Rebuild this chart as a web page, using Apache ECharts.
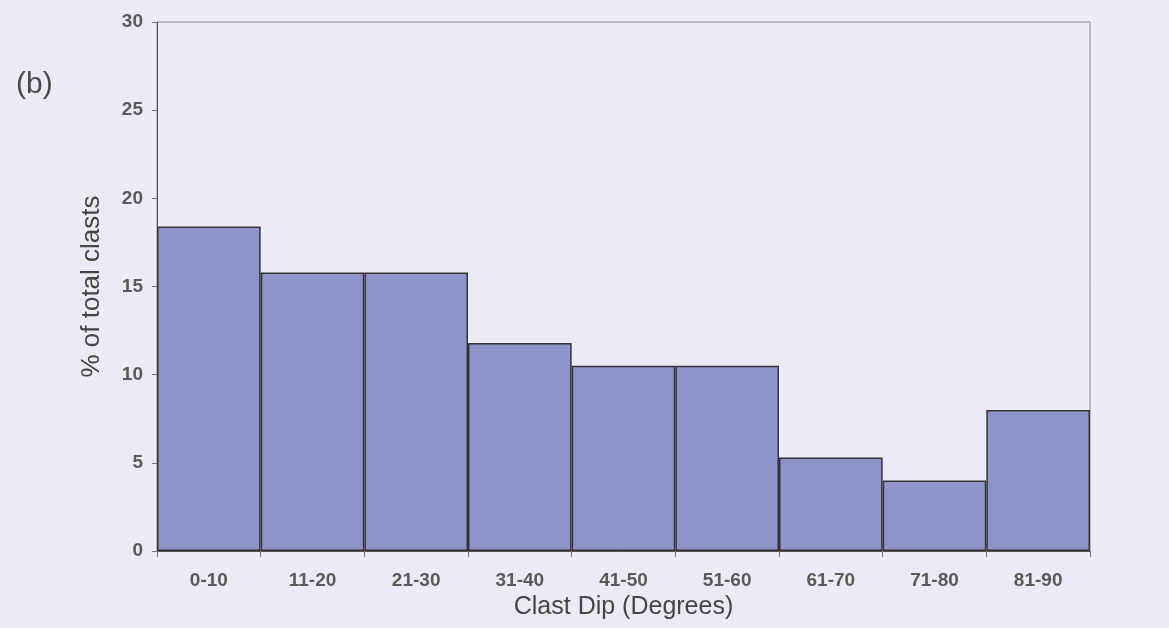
<!DOCTYPE html>
<html>
<head>
<meta charset="utf-8">
<script src="https://cdn.jsdelivr.net/npm/echarts@6/dist/echarts.min.js"></script>
<style>
html,body{margin:0;padding:0;background:#ecebf5;}
#c{width:1169px;height:628px;}
</style>
</head>
<body>
<div id="c"></div>
<script>
const categories = ['0-10','11-20','21-30','31-40','41-50','51-60','61-70','71-80','81-90'];
const percentClasts = [18.4, 15.8, 15.8, 11.8, 10.5, 10.5, 5.3, 4.0, 8.0];
const yTicks = {min: 0, max: 30, interval: 5};

const chart = echarts.init(document.getElementById('c'), null, {renderer: 'canvas'});
chart.setOption({
  backgroundColor: '#ecebf5',
  animation: false,
  title: {
    text: '(b)', left: 11, top: 65,
    textStyle: {fontFamily: 'Liberation Sans, Arial', fontSize: 30, fontWeight: 'normal', color: '#4a4a4a'}
  },
  grid: {left: 157, right: 79, top: 22, bottom: 77, show: true, borderColor: '#8a8a8a', borderWidth: 1, backgroundColor: 'transparent'},
  xAxis: {
    type: 'category',
    data: categories,
    boundaryGap: true,
    name: 'Clast Dip (Degrees)',
    nameLocation: 'middle',
    nameGap: 44,
    nameTextStyle: {fontFamily: 'Liberation Sans, Arial', fontSize: 25, color: '#454545'},
    axisLine: {lineStyle: {color: '#555', width: 1}},
    axisTick: {show: true, alignWithLabel: false, length: 6, lineStyle: {color: '#777'}},
    axisLabel: {fontFamily: 'Liberation Sans, Arial', fontSize: 19, fontWeight: 'bold', color: '#5a5a5a', margin: 20}
  },
  yAxis: {
    type: 'value',
    min: yTicks.min, max: yTicks.max, interval: yTicks.interval,
    name: '% of total clasts',
    nameLocation: 'middle',
    nameGap: 52,
    nameTextStyle: {fontFamily: 'Liberation Sans, Arial', fontSize: 26, color: '#454545'},
    axisLine: {show: true, lineStyle: {color: '#555', width: 1}},
    axisTick: {show: true, length: 5, lineStyle: {color: '#777'}},
    splitLine: {show: false},
    axisLabel: {fontFamily: 'Liberation Sans, Arial', fontSize: 19, fontWeight: 'bold', color: '#5a5a5a', margin: 14}
  },
  series: [{
    type: 'bar',
    data: percentClasts,
    barWidth: '100%',
    barCategoryGap: 0,
    itemStyle: {color: '#8f93cb', borderColor: '#333', borderWidth: 1.5}
  }]
});
</script>
</body>
</html>
